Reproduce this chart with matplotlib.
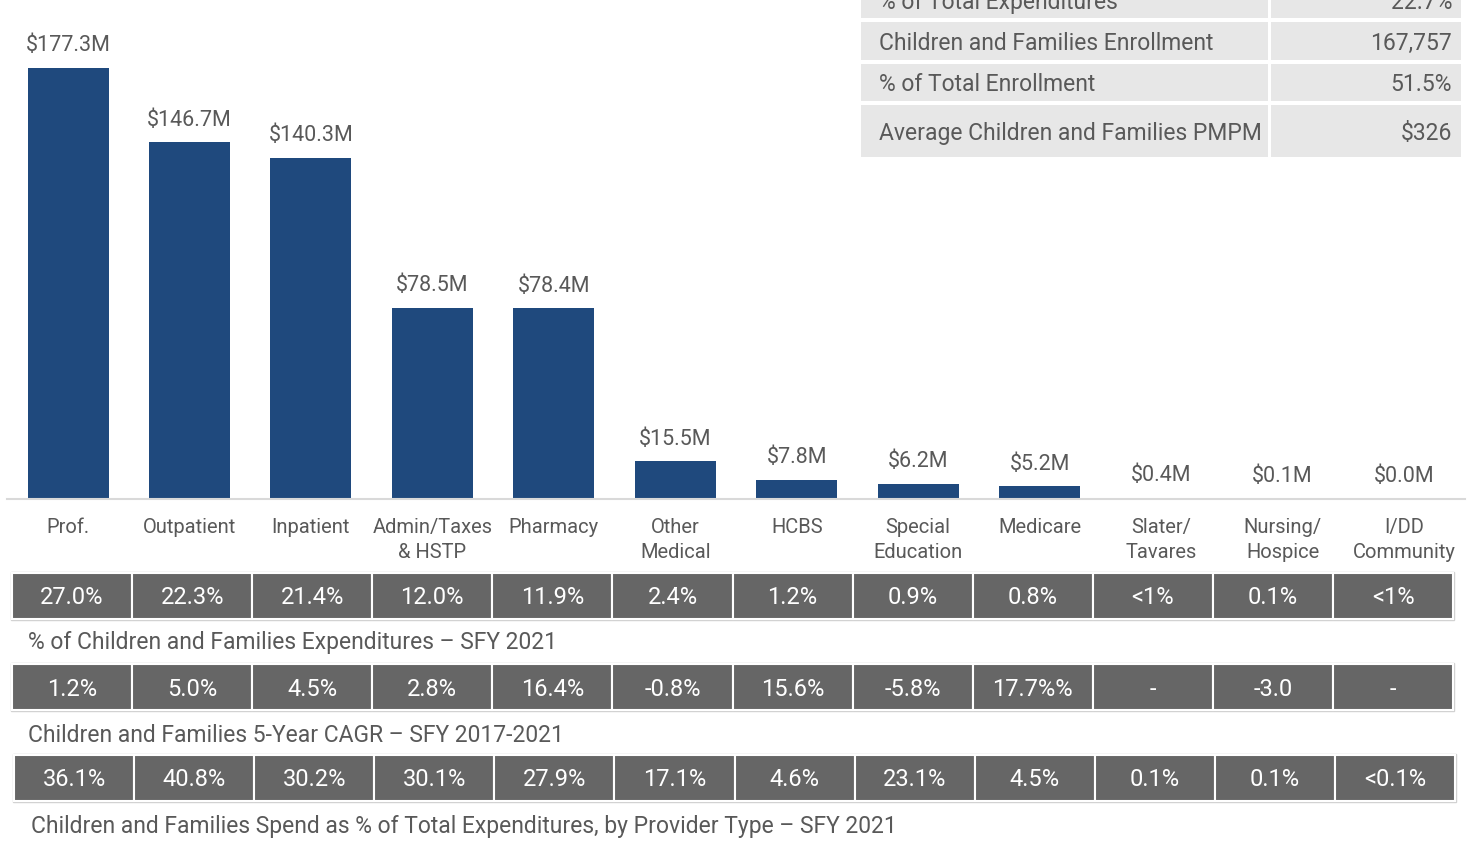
import matplotlib
matplotlib.use("Agg")
import matplotlib.pyplot as plt
from matplotlib.patches import Rectangle

plt.rcParams['font.family'] = ['Roboto', 'DejaVu Sans']

# ---------------- data ----------------
categories = ["Prof.", "Outpatient", "Inpatient", "Admin/Taxes\n& HSTP", "Pharmacy",
              "Other\nMedical", "HCBS", "Special\nEducation", "Medicare",
              "Slater/\nTavares", "Nursing/\nHospice", "I/DD\nCommunity"]
spend_m = [177.3, 146.7, 140.3, 78.5, 78.4, 15.5, 7.8, 6.2, 5.2, 0.4, 0.1, 0.0]

pct_cf_expend = ["27.0%", "22.3%", "21.4%", "12.0%", "11.9%", "2.4%",
                 "1.2%", "0.9%", "0.8%", "<1%", "0.1%", "<1%"]
cagr_5yr = ["1.2%", "5.0%", "4.5%", "2.8%", "16.4%", "-0.8%",
            "15.6%", "-5.8%", "17.7%%", "-", "-3.0", "-"]
pct_total_expend = ["36.1%", "40.8%", "30.2%", "30.1%", "27.9%", "17.1%",
                    "4.6%", "23.1%", "4.5%", "0.1%", "0.1%", "<0.1%"]

row_captions = ["% of Children and Families Expenditures \u2013 SFY 2021",
                "Children and Families 5-Year CAGR \u2013 SFY 2017-2021",
                "Children and Families Spend as % of Total Expenditures, by Provider Type \u2013 SFY 2021"]

summary_labels = ["% of Total Expenditures", "Children and Families Enrollment",
                  "% of Total Enrollment", "Average Children and Families PMPM"]
summary_values = ["22.7%", "167,757", "51.5%", "$326"]

# ---------------- style ----------------
W, H = 1468, 850
BAR_COLOR = "#1F497D"
TEXT_COLOR = "#595959"
CELL_COLOR = "#666666"
SUMMARY_FILL = "#E7E7E7"

fig = plt.figure(figsize=(W / 100, H / 100), dpi=100)

# bar axes: x range -0.5..11.5 maps to px 7.3..1464.7 ; baseline at px 499
left_px, right_px, base_px = 7.3, 1464.7, 499
ax = fig.add_axes([left_px / W, 1 - base_px / H, (right_px - left_px) / W, base_px / H])
ax.patch.set_alpha(0)
x = list(range(len(categories)))
bars = ax.bar(x, spend_m, width=0.667, color=BAR_COLOR, zorder=2)
ax.set_xlim(-0.5, len(categories) - 0.5)
ax.set_ylim(0, 205.3)
for s in ["top", "right", "left"]:
    ax.spines[s].set_visible(False)
ax.spines["bottom"].set_color("#D9D9D9")
ax.spines["bottom"].set_linewidth(1.5)
ax.set_yticks([])
ax.set_xticks(x)
ax.set_xticklabels(categories, fontsize=14.5, color=TEXT_COLOR, linespacing=1.35)
ax.tick_params(axis="x", length=0, pad=14)

for xi, v in zip(x, spend_m):
    ax.annotate(f"${v:.1f}M", (xi, v), xytext=(0, 16), textcoords="offset points",
                ha="center", va="center", fontsize=15.5, color=TEXT_COLOR)

# overlay axes in pixel coordinates for the tables
ov = fig.add_axes([0, 0, 1, 1])
ov.set_xlim(0, W)
ov.set_ylim(H, 0)
ov.axis("off")
ov.patch.set_alpha(0)

# summary table (top right)
col_edges = [(861, 1268), (1271, 1461)]
row_edges = [(-25, 18), (22, 60), (64, 101), (105, 157)]
row_text_y = [2, 43, 84, 133]
for (y0, y1), ty, lab, val in zip(row_edges, row_text_y, summary_labels, summary_values):
    for (x0, x1) in col_edges:
        ov.add_patch(Rectangle((x0, y0), x1 - x0, y1 - y0, facecolor=SUMMARY_FILL,
                               edgecolor="none"))
    ov.text(879, ty, lab, ha="left", va="center", fontsize=16.5, color=TEXT_COLOR)
    ov.text(1452, ty, val, ha="right", va="center", fontsize=16.5, color=TEXT_COLOR)

# bottom data rows
rows = [pct_cf_expend, cagr_5yr, pct_total_expend]
row_boxes = [(12, 1453, 573, 619), (12, 1453, 664, 710), (14, 1455, 755, 801)]
caption_pos = [(28, 643), (28, 735), (31, 826)]
for vals, (x0, x1, y0, y1), cap, (cx, cy) in zip(rows, row_boxes, row_captions, caption_pos):
    n = len(vals)
    cw = (x1 - x0) / n
    ov.add_patch(Rectangle((x0 - 1, y0 - 1), x1 - x0 + 2, y1 - y0 + 2, facecolor="none",
                           edgecolor="#D0D0D0", linewidth=1))
    for i, v in enumerate(vals):
        ov.add_patch(Rectangle((x0 + i * cw, y0), cw, y1 - y0, facecolor=CELL_COLOR,
                               edgecolor="white", linewidth=1.5))
        ov.text(x0 + (i + 0.5) * cw, (y0 + y1) / 2 + 2, v, ha="center", va="center",
                fontsize=17, color="white")
    ov.text(cx, cy, cap, ha="left", va="center", fontsize=16.5, color=TEXT_COLOR)

fig.savefig("out.png", dpi=100)
